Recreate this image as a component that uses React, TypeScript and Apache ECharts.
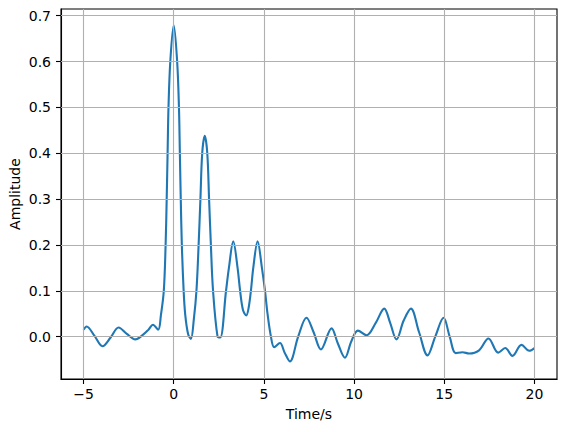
import React, { useEffect, useRef } from "react";
import * as echarts from "echarts";

const times = [
  -5.0, -4.83, -4.4, -3.95, -3.5, -3.06, -2.6, -2.13, -1.73, -1.4, -1.15, -0.86, -0.71, -0.55, -0.45, -0.39,
  -0.34, -0.29, -0.19, 0.0, 0.19, 0.29, 0.34, 0.39, 0.45, 0.55, 0.64, 0.8, 0.95, 1.12, 1.26, 1.38, 1.48, 1.58,
  1.72, 1.86, 1.96, 2.06, 2.18, 2.43, 2.58, 2.9, 3.06, 3.3, 3.54, 3.68, 3.84, 4.02, 4.15, 4.28, 4.41, 4.65,
  4.89, 5.06, 5.2, 5.39, 5.57, 5.89, 6.15, 6.44, 6.9, 7.36, 7.75, 8.16, 8.75, 9.1, 9.49, 9.85, 10.21, 10.69, 11.2,
  11.67, 12.0, 12.35, 12.75, 13.15, 13.6, 14.07, 14.5, 14.96, 15.3, 15.64, 16.01, 16.38, 16.93, 17.45, 17.99,
  18.38, 18.78, 19.28, 19.71, 20.0,
];
const amplitudes = [
  0.015, 0.022, 0.002, -0.021, -0.002, 0.02, 0.006, -0.006, 0.003, 0.015, 0.026, 0.015, 0.047, 0.1, 0.2, 0.3,
  0.4, 0.5, 0.6, 0.679, 0.6, 0.5, 0.4, 0.3, 0.2, 0.1, 0.047, 0.005, -0.005, 0.04, 0.1, 0.2, 0.3, 0.4, 0.438,
  0.4, 0.3, 0.2, 0.1, 0.0, -0.002, 0.1, 0.15, 0.2076, 0.15, 0.1, 0.058, 0.046, 0.062, 0.1, 0.15, 0.2076,
  0.15, 0.1, 0.05, 0.0, -0.023, -0.014, -0.035, -0.054, 0.0, 0.041, 0.01, -0.028, 0.018, -0.015, -0.046, -0.01,
  0.013, 0.003, 0.03, 0.061, 0.03, -0.006, 0.035, 0.061, 0.01, -0.041, 0.0, 0.041, 0.0, -0.036, -0.034, -0.037,
  -0.03, -0.004, -0.035, -0.025, -0.042, -0.018, -0.031, -0.025,
];
const xTicks = [-5, 0, 5, 10, 15, 20];
const yTicks = [0.0, 0.1, 0.2, 0.3, 0.4, 0.5, 0.6, 0.7];

const FONT = "DejaVu Sans";

export default function App() {
  const ref = useRef<HTMLDivElement>(null);
  useEffect(() => {
    if (!ref.current) return;
    const chart = echarts.init(ref.current, null, { renderer: "svg" });
    const gridLineStyle = { color: "#b0b0b0", width: 1.1, type: "solid" as const };
    chart.setOption({
      animation: false,
      backgroundColor: "#ffffff",
      grid: {
        left: 61,
        top: 9,
        width: 496,
        height: 370,
        containLabel: false,
        outerBoundsMode: "none",
        show: true,
        borderColor: "#000",
        borderWidth: 1.1,
        backgroundColor: "transparent",
      },
      xAxis: {
        type: "value",
        min: -6.25,
        max: 21.25,
        name: "Time/s",
        nameLocation: "middle",
        nameGap: 28,
        nameMoveOverlap: false,
        nameTextStyle: { color: "#000", fontFamily: FONT, fontSize: 14 },
        axisLine: { show: true, onZero: false, lineStyle: { color: "#000", width: 1.1 } },
        axisTick: { show: true, length: 5, customValues: xTicks, lineStyle: { color: "#000", width: 1.1 } },
        axisLabel: {
          customValues: xTicks,
          color: "#000",
          fontFamily: FONT,
          fontSize: 14,
          margin: 8,
          formatter: (v: number) => String(v).replace("-", "\u2212"),
        },
        splitLine: { show: false },
      },
      yAxis: {
        type: "value",
        min: -0.0925,
        max: 0.7146,
        name: "Amplitude",
        nameLocation: "middle",
        nameGap: 39,
        nameMoveOverlap: false,
        nameTextStyle: { color: "#000", fontFamily: FONT, fontSize: 14 },
        axisLine: { show: true, onZero: false, lineStyle: { color: "#000", width: 1.1 } },
        axisTick: { show: true, length: 5, customValues: yTicks, lineStyle: { color: "#000", width: 1.1 } },
        axisLabel: {
          customValues: yTicks,
          color: "#000",
          fontFamily: FONT,
          fontSize: 14,
          margin: 10,
          formatter: (v: number) => v.toFixed(1).replace("-", "\u2212"),
        },
        splitLine: { show: false },
      },
      series: [
        {
          type: "line",
          data: [],
          z: 1,
          silent: true,
          markLine: {
            silent: true,
            symbol: ["none", "none"],
            label: { show: false },
            lineStyle: gridLineStyle,
            emphasis: { disabled: true },
            data: [
              ...xTicks.map((x) => ({ xAxis: x })),
              ...yTicks.map((y) => ({ yAxis: y })),
            ],
          },
        },
        {
          type: "line",
          z: 3,
          data: times.map((t, i) => [t, amplitudes[i]]),
          smooth: 0.35,
          showSymbol: false,
          symbol: "none",
          lineStyle: { color: "#1f77b4", width: 2.1 },
          itemStyle: { color: "#1f77b4" },
        },
      ],
    });
    return () => chart.dispose();
  }, []);
  return (
    <div
      ref={ref}
      style={{ position: "fixed", left: 0, top: 0, width: 567, height: 432, background: "#fff" }}
    />
  );
}
